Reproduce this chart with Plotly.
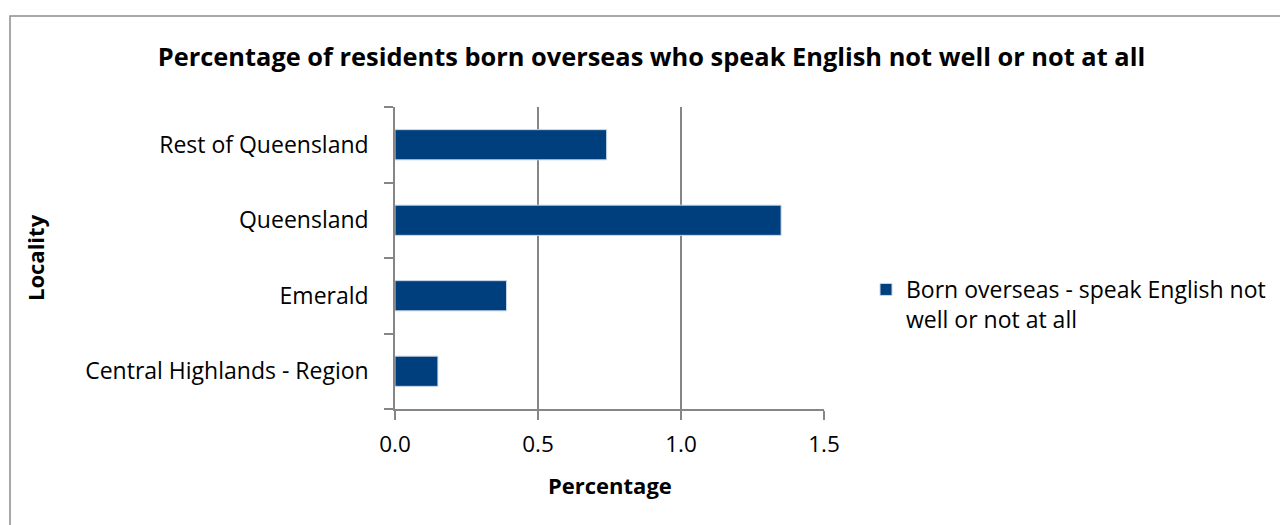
import plotly.graph_objects as go

# Localities (bottom to top) and percentage values
localities = ["Central Highlands - Region", "Emerald", "Queensland", "Rest of Queensland"]
pct_values = [0.15, 0.39, 1.35, 0.74]
x_ticks = [0.0, 0.5, 1.0, 1.5]
series_name = "Born overseas - speak English not<br>well or not at all"

FONT = "Open Sans, Noto Sans, sans-serif"
GRID = "#868686"
BAR = "#003F7D"

fig = go.Figure()
fig.add_trace(go.Bar(
    y=localities,
    x=pct_values,
    orientation="h",
    name=series_name,
    width=0.4,
    marker=dict(color=BAR, line=dict(color="#C9D6E8", width=1)),
    showlegend=True,
))

W, H = 1280, 525
L, R, T, B = 395, 456, 107, 116
pw, ph = W - L - R, H - T - B

fig.update_layout(
    width=W, height=H,
    margin=dict(l=L, r=R, t=T, b=B, autoexpand=False),
    paper_bgcolor="white",
    plot_bgcolor="white",
    font=dict(family=FONT, size=23, color="#000000"),
    title=dict(
        text="<b>Percentage of residents born overseas who speak English not well or not at all</b>",
        x=(157 + 1146) / 2 / W, xanchor="center", xref="container",
        y=1 - 57 / H, yanchor="middle", yref="container",
        font=dict(family=FONT, size=25.4, color="#000000"),
    ),
    xaxis=dict(
        range=[0, 1.5],
        tickvals=x_ticks,
        tickformat=".1f",
        showgrid=True, gridcolor=GRID, gridwidth=1.5,
        zeroline=False,
        showline=True, linecolor=GRID, linewidth=1.5,
        ticks="outside", ticklen=9, tickcolor=GRID, tickwidth=1.5,
        ticklabelstandoff=5,
        tickfont=dict(size=22.5),
    ),
    yaxis=dict(
        categoryorder="array", categoryarray=localities,
        range=[-0.5, 3.5],
        showgrid=False, zeroline=False,
        showline=True, linecolor=GRID, linewidth=1.5,
        ticks="outside", ticklen=9, tickcolor=GRID, tickwidth=1.5,
        tickson="boundaries",
        ticklabelstandoff=20,
        tickfont=dict(size=23),
    ),
    legend=dict(
        xref="container", yref="container",
        x=866 / W, xanchor="left",
        y=1 - 268 / H, yanchor="top",
        valign="top",
        font=dict(family=FONT, size=23),
        bgcolor="rgba(0,0,0,0)",
        itemclick=False,
    ),
    bargap=0.6,
    annotations=[
        dict(text="<b>Percentage</b>", xref="paper", yref="paper",
             x=0.5, y=(H - B - 485) / ph, xanchor="center", yanchor="middle",
             showarrow=False, font=dict(family=FONT, size=22)),
        dict(text="<b>Locality</b>", xref="paper", yref="paper",
             x=(35 - L) / pw, y=0.5, xanchor="center", yanchor="middle",
             textangle=-90, showarrow=False, font=dict(family=FONT, size=22)),
    ],
    shapes=[
        dict(type="rect", xref="paper", yref="paper",
             x0=(10 - L) / pw, x1=(W + 20 - L) / pw,
             y0=(H - B - H - 20) / ph, y1=(H - B - 16) / ph,
             line=dict(color="#8C8C8C", width=1.5), fillcolor="rgba(0,0,0,0)",
             layer="below"),
    ],
)

fig.write_html("out.html")
